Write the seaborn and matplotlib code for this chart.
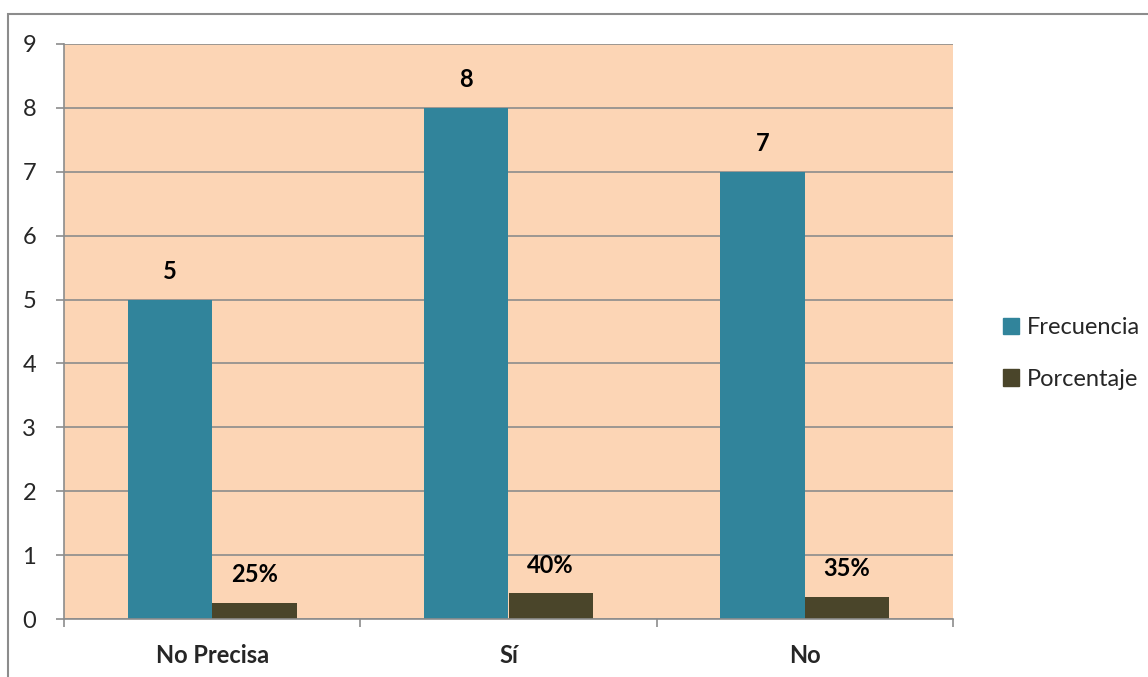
import matplotlib
matplotlib.use("Agg")
import matplotlib.pyplot as plt
import matplotlib.patches as mpatches
import seaborn as sns
import pandas as pd

categorias = ["No Precisa", "Sí", "No"]
frecuencia = [5, 8, 7]
porcentaje = [0.25, 0.40, 0.35]
series = ["Frecuencia", "Porcentaje"]
colores = ["#31849B", "#4A452A"]

sns.set_theme(style="white")
plt.rcParams["font.family"] = ["Lato", "DejaVu Sans"]

df = pd.DataFrame({
    "categoria": categorias * 2,
    "valor": frecuencia + porcentaje,
    "serie": [series[0]] * 3 + [series[1]] * 3,
})

fig = plt.figure(figsize=(11.48, 6.77), dpi=100)
ax = fig.add_axes([64 / 1148, 1 - 619 / 677, (953 - 64) / 1148, (619 - 44) / 677])

sns.barplot(data=df, x="categoria", y="valor", hue="serie", order=categorias,
            hue_order=series, palette=colores, width=0.57, gap=0,
            saturation=1, linewidth=0, ax=ax, legend=False)

ax.set_facecolor("#FCD5B5")
ax.set_xlim(-0.5, 2.5)
ax.set_ylim(0, 9)
ax.set_yticks(range(0, 10))
ax.yaxis.grid(True, color="#8C8C8C", linewidth=1.2)
ax.set_axisbelow(True)
for s in ["top", "right"]:
    ax.spines[s].set_visible(False)
for s in ["left", "bottom"]:
    ax.spines[s].set_color("#8C8C8C")
    ax.spines[s].set_linewidth(1.2)

ax.set_xlabel("")
ax.set_ylabel("")
ax.tick_params(axis="y", which="major", left=True, length=6, width=1.2,
               color="#8C8C8C", labelsize=17, pad=14)
ax.tick_params(axis="x", which="major", length=0, labelsize=17, pad=18)
for lbl in ax.get_xticklabels():
    lbl.set_fontweight("bold")
ax.set_xticks([-0.5, 0.5, 1.5, 2.5], minor=True)
ax.tick_params(axis="x", which="minor", bottom=True, length=6, width=1.2,
               color="#8C8C8C")

# Value labels above each bar
for cont, serie in zip(ax.containers, series):
    if serie == "Frecuencia":
        textos = [f"{v:g}" for v in frecuencia]
    else:
        textos = [f"{round(v * 100)}%" for v in porcentaje]
    ax.bar_label(cont, labels=textos, padding=12, fontsize=17,
                 fontweight="bold", color="black")

handles = [mpatches.Patch(color=c, label=s) for c, s in zip(colores, series)]
fig.legend(handles=handles, loc="center left", bbox_to_anchor=(0.855, 0.478),
           frameon=False, fontsize=17, handlelength=0.7, handleheight=0.7,
           handletextpad=0.3, labelspacing=1.3)

# Outer chart border (top and left edges fall inside the image)
border = mpatches.Rectangle((8 / 1148, -0.2), 1.3, 1.2 - 14 / 677,
                            transform=fig.transFigure, fill=False,
                            edgecolor="#8C8C8C", linewidth=1.5)
fig.patches.append(border)

fig.savefig("out.png", dpi=100)
